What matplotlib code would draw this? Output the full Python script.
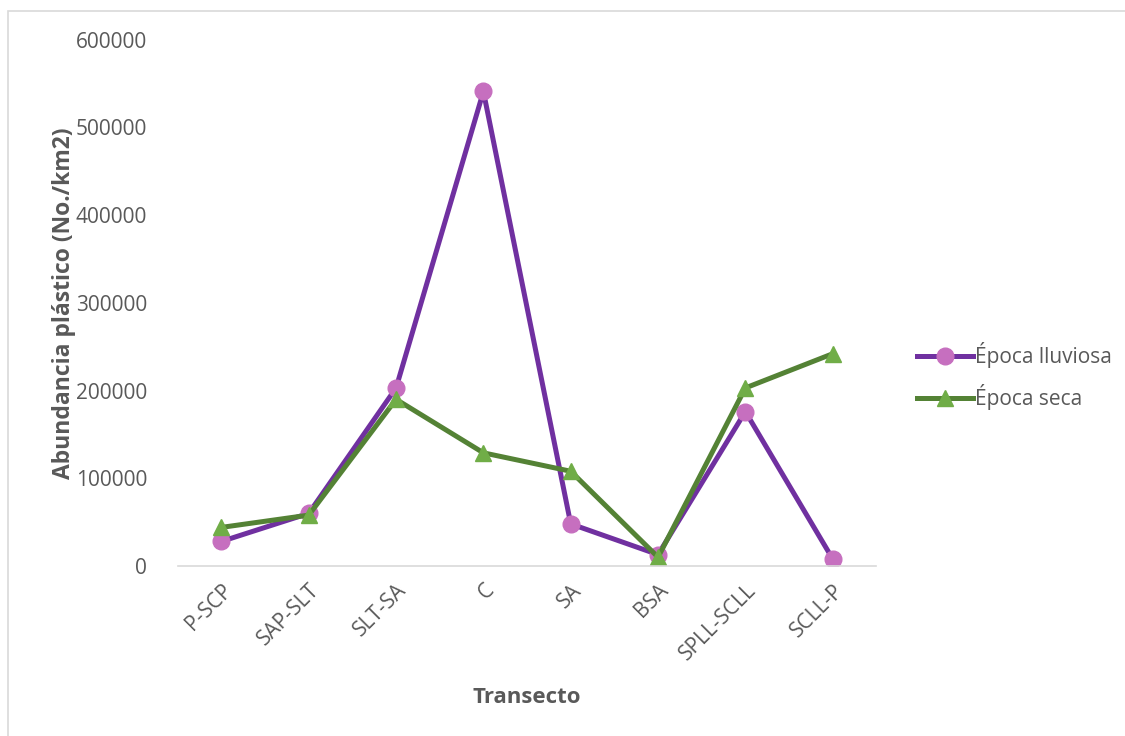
import matplotlib.pyplot as plt
from matplotlib.patches import Rectangle

# datos
transectos = ['P-SCP', 'SAP-SLT', 'SLT-SA', 'C', 'SA', 'BSA', 'SPLL-SCLL', 'SCLL-P']
lluviosa = [28000, 60000, 203000, 541000, 48000, 13000, 176000, 8000]
seca = [44000, 58000, 190000, 129000, 108000, 10000, 203000, 242000]
yticks = [0, 100000, 200000, 300000, 400000, 500000, 600000]

plt.rcParams['font.family'] = ['Open Sans', 'DejaVu Sans']
gris = '#595959'

fig = plt.figure(figsize=(11.25, 7.36), dpi=100)
ax = fig.add_axes([0.158, 0.231, 0.621, 0.715])

# marco exterior del grafico
fig.patches.append(Rectangle((8 / 1125, -0.05), 1.2, 1 - 11 / 736 + 0.05,
                             transform=fig.transFigure, fill=False,
                             edgecolor='#d9d9d9', linewidth=1.2))

x = range(len(transectos))
ax.plot(x, lluviosa, color='#7030A0', linewidth=3.6, marker='o', markersize=12,
        markerfacecolor='#C66FBF', markeredgecolor='#C66FBF', label='Época lluviosa')
ax.plot(x, seca, color='#548235', linewidth=3.6, marker='^', markersize=12,
        markerfacecolor='#70AD47', markeredgecolor='#70AD47', label='Época seca')

ax.set_xlim(-0.5, len(transectos) - 0.5)
ax.set_ylim(0, 600000)
ax.set_yticks(yticks)
ax.set_yticklabels([str(v) for v in yticks])
ax.set_xticks(list(x))
ax.set_xticklabels(transectos, rotation=45, ha='right', va='top',
                   rotation_mode='anchor')

for s in ['top', 'right', 'left']:
    ax.spines[s].set_visible(False)
ax.spines['bottom'].set_color('#d9d9d9')
ax.spines['bottom'].set_linewidth(1.2)
ax.tick_params(axis='both', length=0, labelsize=15, labelcolor=gris)
ax.tick_params(axis='y', pad=22)
ax.tick_params(axis='x', pad=10)

ax.set_ylabel('Abundancia plástico (No./km2)', fontsize=16.5, fontweight='bold',
              color=gris, labelpad=0)
ax.set_xlabel('Transecto', fontsize=16, fontweight='bold', color=gris,
              labelpad=16)

leg = ax.legend(loc='center left', bbox_to_anchor=(0.798, 0.489),
                bbox_transform=fig.transFigure, frameon=False, fontsize=15,
                handlelength=2.7, handletextpad=0.1, labelspacing=0.75)
for t in leg.get_texts():
    t.set_color(gris)

fig.savefig('out.png', dpi=100)
